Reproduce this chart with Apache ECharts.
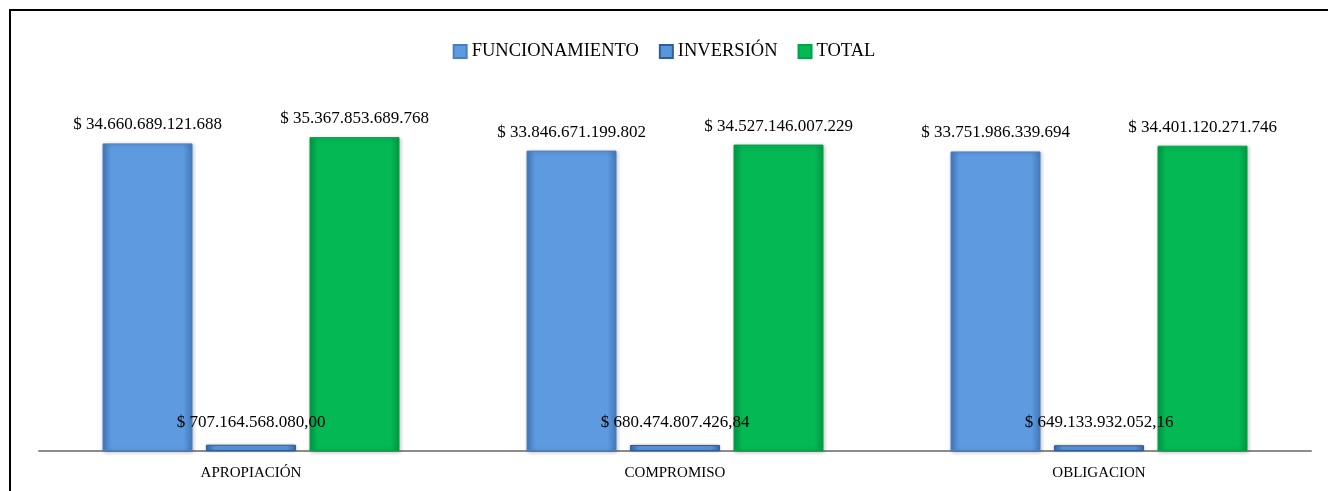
<!DOCTYPE html>
<html>
<head>
<meta charset="utf-8">
<script src="https://cdn.jsdelivr.net/npm/echarts@6/dist/echarts.min.js"></script>
<style>
  html, body { margin: 0; padding: 0; background: #fff; }
  #chart { width: 1328px; height: 491px; }
</style>
</head>
<body>
<div id="chart"></div>
<script>
// datos
const categorias = ['APROPIACIÓN', 'COMPROMISO', 'OBLIGACION'];
const funcionamiento = [34660689121688, 33846671199802, 33751986339694];
const inversion = [707164568080.00, 680474807426.84, 649133932052.16];
const total = [35367853689768, 34527146007229, 34401120271746];

const FONT = '"Liberation Serif", "DejaVu Serif", serif';

// $ 34.660.689.121.688  /  $ 707.164.568.080,00
function pesos(v, dec) {
  const parts = v.toFixed(dec).split('.');
  const ent = parts[0].replace(/\B(?=(\d{3})+(?!\d))/g, '.');
  return '$ ' + ent + (dec ? ',' + parts[1] : '');
}

function bisel(edge, mid) {
  return new echarts.graphic.LinearGradient(0, 0, 1, 0, [
    { offset: 0, color: edge },
    { offset: 0.1, color: mid },
    { offset: 0.9, color: mid },
    { offset: 1, color: edge }
  ]);
}

const myChart = echarts.init(document.getElementById('chart'));

myChart.setOption({
  animation: false,
  legend: {
    top: 37,
    left: 'center',
    itemWidth: 13,
    itemHeight: 13,
    itemGap: 20,
    icon: 'rect',
    textStyle: { fontFamily: FONT, fontSize: 18.5, color: '#000' }
  },
  grid: { left: 39, right: 17, top: 96, bottom: 40 },
  xAxis: {
    type: 'category',
    data: categorias,
    axisLine: { lineStyle: { color: '#8c8c8c', width: 2 } },
    axisTick: { show: false },
    axisLabel: { fontFamily: FONT, fontSize: 15, color: '#000', margin: 15 }
  },
  yAxis: {
    type: 'value',
    min: 0,
    max: 40000000000000,
    show: false,
    splitLine: { show: false }
  },
  graphic: [{
    type: 'rect',
    shape: { x: 10, y: 10, width: 1400, height: 600 },
    style: { fill: 'none', stroke: '#000', lineWidth: 2 }
  }],
  series: [
    {
      name: 'FUNCIONAMIENTO',
      type: 'bar',
      barWidth: 90,
      barGap: '15%',
      data: funcionamiento,
      itemStyle: {
        color: bisel('#4379bb', '#5d9ae0'),
        borderColor: '#4a7fc0',
        borderWidth: 1,
        shadowColor: 'rgba(0,0,0,0.25)',
        shadowBlur: 4,
        shadowOffsetX: 1,
        shadowOffsetY: 1
      },
      label: {
        show: true, position: 'top', distance: 10,
        fontFamily: FONT, fontSize: 17, color: '#000',
        formatter: p => pesos(p.value, 0)
      }
    },
    {
      name: 'INVERSIÓN',
      type: 'bar',
      barWidth: 90,
      data: inversion,
      itemStyle: {
        color: bisel('#3a6aa8', '#5a95dc'),
        borderColor: '#2f5f9a',
        borderWidth: 1,
        shadowColor: 'rgba(0,0,0,0.25)',
        shadowBlur: 3
      },
      label: {
        show: true, position: 'top', distance: 14,
        fontFamily: FONT, fontSize: 17, color: '#000',
        formatter: p => pesos(p.value, 2)
      }
    },
    {
      name: 'TOTAL',
      type: 'bar',
      barWidth: 90,
      data: total,
      itemStyle: {
        color: bisel('#019a45', '#04b854'),
        borderColor: '#06a04a',
        borderWidth: 1,
        shadowColor: 'rgba(0,0,0,0.25)',
        shadowBlur: 4,
        shadowOffsetX: 1,
        shadowOffsetY: 1
      },
      label: {
        show: true, position: 'top', distance: 10,
        fontFamily: FONT, fontSize: 17, color: '#000',
        formatter: p => pesos(p.value, 0)
      }
    }
  ]
});
</script>
</body>
</html>
